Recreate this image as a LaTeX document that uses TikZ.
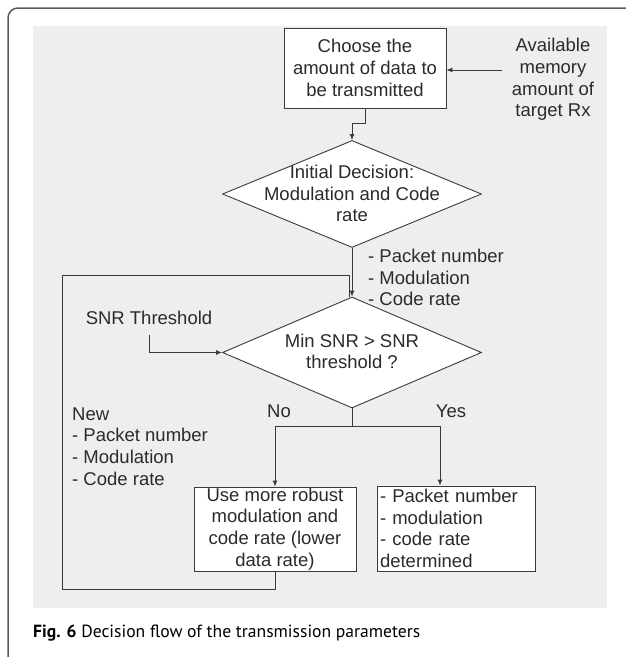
\documentclass[tikz,border=0pt]{standalone}
\usepackage{fontspec}
\setmainfont{Liberation Sans}
\newfontfamily\capfont{PT Sans}
\usetikzlibrary{shapes.geometric,arrows.meta}
\definecolor{bggray}{HTML}{EDEEEE}
\definecolor{linecol}{HTML}{3A3A3A}
\definecolor{txtcol}{HTML}{2B2B2B}
\definecolor{framecol}{HTML}{5A5A5A}
\begin{document}
\begin{tikzpicture}[x=1pt,y=-1pt,
  every node/.style={font=\fontsize{18.5}{21.7}\selectfont, text=txtcol, inner sep=0pt},
  flowbox/.style={draw=linecol, fill=white, line width=0.9pt, rectangle},
  decbox/.style={draw=linecol, fill=white, line width=0.9pt, diamond},
  conn/.style={draw=linecol, line width=0.9pt},
  arr/.style={conn, -{Latex[length=6pt,width=5pt]}}]
\useasboundingbox (0,0) rectangle (626,657);
% frame and background
\draw[framecol, line width=1.5pt, rounded corners=10pt] (8,665) -- (8,8) -- (640,8);
\fill[bggray] (33,26) rectangle (607,608);
% nodes
\node[flowbox, minimum width=162pt, minimum height=80pt, align=center] (box1) at (365,68)
  {Choose the\\amount of data to\\be transmitted};
\node[align=center] (avail) at (553,79.5) {Available\\memory\\amount of\\target Rx};
\node[decbox, minimum width=259pt, minimum height=107pt] (d1) at (352,194) {};
\node[align=center] (d1t) at (352,193.5) {Initial Decision:\\Modulation and Code\\rate};
\node[anchor=west, align=left] (lab1) at (368,277.5) {- Packet number\\- Modulation\\- Code rate};
\node (snr) at (149,318) {SNR Threshold};
\node[decbox, minimum width=259pt, minimum height=111pt] (d2) at (352,352.5) {};
\node[align=center] (d2t) at (352,351.5) {Min SNR > SNR\\threshold ?};
\node (no) at (279,411) {No};
\node (yes) at (451,411) {Yes};
\node[anchor=west, align=left] (lab2) at (72,446.5) {New\\- Packet number\\- Modulation\\- Code rate};
\node[flowbox, minimum width=162pt, minimum height=84pt, align=center] (box2) at (275,529)
  {Use more robust\\modulation and\\code rate (lower\\data rate)};
\node[flowbox, minimum width=158pt, minimum height=85pt, text width=152pt, inner xsep=3pt, align=left] (box3) at (456,528.5)
  {- Packet number\\- modulation\\- code rate\\determined};
\node[anchor=west, font=\capfont\fontsize{17.6}{21}\selectfont, text=black] (cap) at (33,633)
  {\textbf{Fig. 6} Decision flow of the transmission parameters};
% connectors
\coordinate (availout) at (502,70);
\draw[arr] (availout) -- (box1.east |- availout);
\draw[arr] (box1.south) -- ++(0,15) -| (d1.north);
\draw[arr] (d1.south) -- (d2.north);
\coordinate (loopc) at (62,275);
\draw[conn] (box2.south) -- ++(0,18) -| (loopc) -| ([xshift=-3pt]d2.north);
\coordinate (snrout) at (149,335);
\draw[arr] (snrout) |- (d2.west);
\coordinate (split) at (352,426);
\draw[conn] (d2.south) -- (split);
\draw[arr] (split) -| (box2.north);
\draw[arr] (split) -| ([xshift=-16pt]box3.north);
\end{tikzpicture}
\end{document}
